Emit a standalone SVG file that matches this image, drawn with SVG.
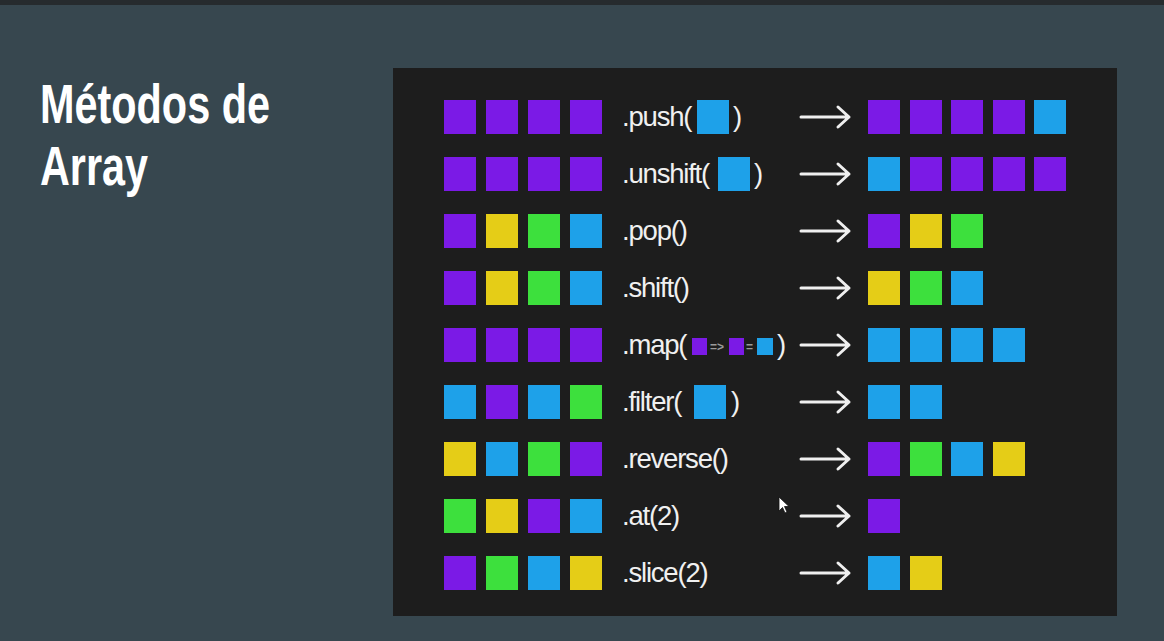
<svg xmlns="http://www.w3.org/2000/svg" width="1164" height="641" viewBox="0 0 1164 641">
  <defs>
    <style>
      .p{fill:#7b1ae6}
      .y{fill:#e5cd17}
      .g{fill:#3de03d}
      .b{fill:#1ea1e9}
      .lbl{font-family:"Liberation Sans",Arial,sans-serif;font-size:27.5px;fill:#f0f0f0;letter-spacing:-1.2px}
      .sm{font-family:"Liberation Sans",Arial,sans-serif;font-size:12px;fill:#9a9a9a;font-weight:bold}
      .title{font-family:"Liberation Sans",Arial,sans-serif;font-weight:bold;font-size:55px;fill:#ffffff}
      .arr{fill:none;stroke:#efefef;stroke-width:3;stroke-linecap:round;stroke-linejoin:round}
    </style>
    <rect id="sq" width="32" height="34"/>
    <path id="ar" d="M801,0 H849 M838,-10 L849,0 L838,10"/>
  </defs>

  <rect width="1164" height="641" fill="#37474f"/>
  <rect width="1164" height="5" fill="#262b2e"/>

  <g id="title">
    <text class="title" x="40" y="123" textLength="230" lengthAdjust="spacingAndGlyphs">Métodos de</text>
    <text class="title" x="40" y="185" textLength="108" lengthAdjust="spacingAndGlyphs">Array</text>
  </g>

  <rect id="panel" x="393" y="68" width="724" height="548" fill="#1d1d1d"/>

  <g id="row-push">
    <use href="#sq" class="p" x="444" y="100"/><use href="#sq" class="p" x="486" y="100"/><use href="#sq" class="p" x="528" y="100"/><use href="#sq" class="p" x="570" y="100"/>
    <text class="lbl" x="622" y="126">.push(</text><use href="#sq" class="b" x="697" y="100"/><text class="lbl" x="733" y="126">)</text>
    <use href="#sq" class="p" x="868" y="100"/><use href="#sq" class="p" x="910" y="100"/><use href="#sq" class="p" x="951" y="100"/><use href="#sq" class="p" x="993" y="100"/><use href="#sq" class="b" x="1034" y="100"/>
  </g>

  <g id="row-unshift">
    <use href="#sq" class="p" x="444" y="157"/><use href="#sq" class="p" x="486" y="157"/><use href="#sq" class="p" x="528" y="157"/><use href="#sq" class="p" x="570" y="157"/>
    <text class="lbl" x="622" y="183">.unshift(</text><use href="#sq" class="b" x="718" y="157"/><text class="lbl" x="754" y="183">)</text>
    <use href="#sq" class="b" x="868" y="157"/><use href="#sq" class="p" x="910" y="157"/><use href="#sq" class="p" x="951" y="157"/><use href="#sq" class="p" x="993" y="157"/><use href="#sq" class="p" x="1034" y="157"/>
  </g>

  <g id="row-pop">
    <use href="#sq" class="p" x="444" y="214"/><use href="#sq" class="y" x="486" y="214"/><use href="#sq" class="g" x="528" y="214"/><use href="#sq" class="b" x="570" y="214"/>
    <text class="lbl" x="622" y="240">.pop()</text>
    <use href="#sq" class="p" x="868" y="214"/><use href="#sq" class="y" x="910" y="214"/><use href="#sq" class="g" x="951" y="214"/>
  </g>

  <g id="row-shift">
    <use href="#sq" class="p" x="444" y="271"/><use href="#sq" class="y" x="486" y="271"/><use href="#sq" class="g" x="528" y="271"/><use href="#sq" class="b" x="570" y="271"/>
    <text class="lbl" x="622" y="297">.shift()</text>
    <use href="#sq" class="y" x="868" y="271"/><use href="#sq" class="g" x="910" y="271"/><use href="#sq" class="b" x="951" y="271"/>
  </g>

  <g id="row-map">
    <use href="#sq" class="p" x="444" y="328"/><use href="#sq" class="p" x="486" y="328"/><use href="#sq" class="p" x="528" y="328"/><use href="#sq" class="p" x="570" y="328"/>
    <text class="lbl" x="622" y="354">.map(</text>
    <rect class="p" x="692" y="338" width="15" height="17"/>
    <text class="sm" x="710" y="351">=&gt;</text>
    <rect class="p" x="729" y="338" width="15" height="17"/>
    <text class="sm" x="746" y="351">=</text>
    <rect class="b" x="757" y="338" width="16" height="17"/>
    <text class="lbl" x="777" y="354">)</text>
    <use href="#sq" class="b" x="868" y="328"/><use href="#sq" class="b" x="910" y="328"/><use href="#sq" class="b" x="951" y="328"/><use href="#sq" class="b" x="993" y="328"/>
  </g>

  <g id="row-filter">
    <use href="#sq" class="b" x="444" y="385"/><use href="#sq" class="p" x="486" y="385"/><use href="#sq" class="b" x="528" y="385"/><use href="#sq" class="g" x="570" y="385"/>
    <text class="lbl" x="622" y="411">.filter(</text><use href="#sq" class="b" x="694" y="385"/><text class="lbl" x="731" y="411">)</text>
    <use href="#sq" class="b" x="868" y="385"/><use href="#sq" class="b" x="910" y="385"/>
  </g>

  <g id="row-reverse">
    <use href="#sq" class="y" x="444" y="442"/><use href="#sq" class="b" x="486" y="442"/><use href="#sq" class="g" x="528" y="442"/><use href="#sq" class="p" x="570" y="442"/>
    <text class="lbl" x="622" y="468">.reverse()</text>
    <use href="#sq" class="p" x="868" y="442"/><use href="#sq" class="g" x="910" y="442"/><use href="#sq" class="b" x="951" y="442"/><use href="#sq" class="y" x="993" y="442"/>
  </g>

  <g id="row-at">
    <use href="#sq" class="g" x="444" y="499"/><use href="#sq" class="y" x="486" y="499"/><use href="#sq" class="p" x="528" y="499"/><use href="#sq" class="b" x="570" y="499"/>
    <text class="lbl" x="622" y="525">.at(2)</text>
    <use href="#sq" class="p" x="868" y="499"/>
  </g>

  <g id="row-slice">
    <use href="#sq" class="p" x="444" y="556"/><use href="#sq" class="g" x="486" y="556"/><use href="#sq" class="b" x="528" y="556"/><use href="#sq" class="y" x="570" y="556"/>
    <text class="lbl" x="622" y="582">.slice(2)</text>
    <use href="#sq" class="b" x="868" y="556"/><use href="#sq" class="y" x="910" y="556"/>
  </g>

  <g id="connectors" class="arr">
    <use href="#ar" y="117"/>
    <use href="#ar" y="174"/>
    <use href="#ar" y="231"/>
    <use href="#ar" y="288"/>
    <use href="#ar" y="345"/>
    <use href="#ar" y="402"/>
    <use href="#ar" y="459"/>
    <use href="#ar" y="516"/>
    <use href="#ar" y="573"/>
  </g>

  <path id="cursor" d="M779,497 V511 L782.5,507.5 L785,513 L787,512 L784.5,506.5 L789,506.5 Z" fill="#ffffff" stroke="#111" stroke-width="0.8"/>
</svg>
